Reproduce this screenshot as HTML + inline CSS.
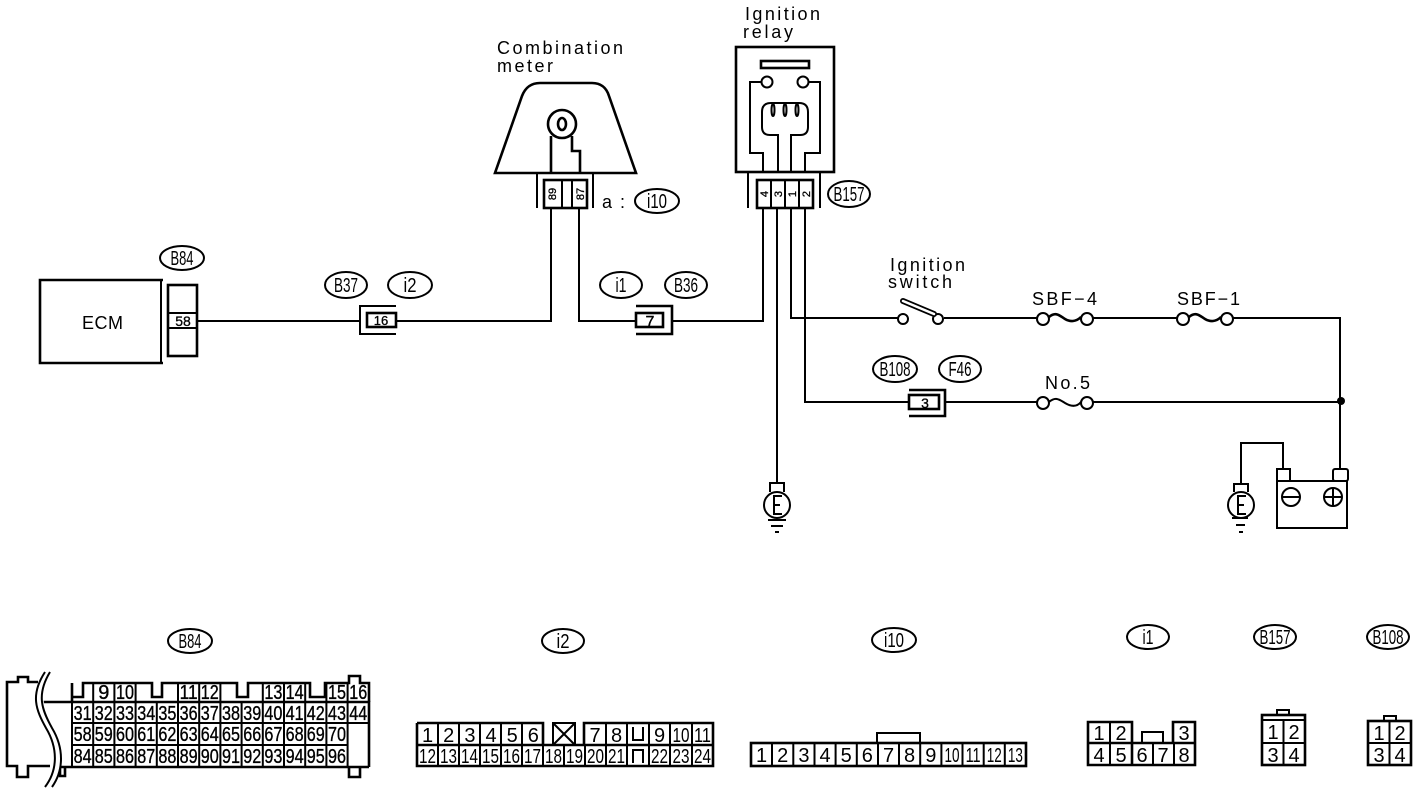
<!DOCTYPE html>
<html><head><meta charset="utf-8"><style>
html,body{margin:0;padding:0;background:#fff}
svg{display:block}
text{font-family:"Liberation Sans",sans-serif;fill:#000}
.w{fill:none;stroke:#000;stroke-width:2}
.t{fill:none;stroke:#000;stroke-width:1.5}
.h{fill:none;stroke:#000;stroke-width:2.6}
.l{font-size:18px}
.n{font-size:20px;text-anchor:middle}
.s{font-size:20px;text-anchor:middle;stroke:#000;stroke-width:.35}
.o{font-size:20px;text-anchor:middle}
</style></head><body>
<svg width="1424" height="794" viewBox="0 0 1424 794" xmlns="http://www.w3.org/2000/svg">
<rect width="1424" height="794" fill="#fff"/>

<!-- labels -->
<g class="l" lengthAdjust="spacing">
<text x="497" y="54" textLength="126">Combination</text>
<text x="497" y="72" textLength="56">meter</text>
<text x="745" y="20" textLength="75">Ignition</text>
<text x="743" y="38" textLength="50">relay</text>
<text x="890" y="271" textLength="75">Ignition</text>
<text x="888" y="288" textLength="64">switch</text>
<text x="1032" y="305" textLength="65">SBF−4</text>
<text x="1177" y="305" textLength="63">SBF−1</text>
<text x="1045" y="389" textLength="45">No.5</text>
<text x="82" y="329" textLength="41">ECM</text>
<text x="602" y="208" textLength="23">a :</text>
</g>

<!-- ovals -->
<g>
<ellipse class="w" cx="182" cy="258" rx="22" ry="12"/>
<ellipse class="w" cx="346" cy="285" rx="21" ry="13"/>
<ellipse class="w" cx="410" cy="285" rx="22" ry="13"/>
<ellipse class="w" cx="621" cy="285" rx="21" ry="13"/>
<ellipse class="w" cx="686" cy="285" rx="21" ry="13"/>
<ellipse class="w" cx="657" cy="201" rx="22" ry="12"/>
<ellipse class="w" cx="849" cy="194" rx="21" ry="13"/>
<ellipse class="w" cx="895" cy="369" rx="22" ry="13"/>
<ellipse class="w" cx="960" cy="369" rx="21" ry="13"/>
<ellipse class="w" cx="190" cy="641" rx="22" ry="12"/>
<ellipse class="w" cx="563" cy="641" rx="21" ry="12"/>
<ellipse class="w" cx="894" cy="640" rx="22" ry="12"/>
<ellipse class="w" cx="1148" cy="637" rx="21" ry="12"/>
<ellipse class="w" cx="1275" cy="637" rx="21" ry="12"/>
<ellipse class="w" cx="1388" cy="637" rx="21" ry="12"/>
</g>
<g class="o">
<text x="182" y="265" textLength="23" lengthAdjust="spacingAndGlyphs">B84</text>
<text x="346" y="292" textLength="24" lengthAdjust="spacingAndGlyphs">B37</text>
<text x="410" y="292" textLength="13" lengthAdjust="spacingAndGlyphs">i2</text>
<text x="621" y="292" textLength="11" lengthAdjust="spacingAndGlyphs">i1</text>
<text x="686" y="292" textLength="24" lengthAdjust="spacingAndGlyphs">B36</text>
<text x="657" y="208" textLength="20" lengthAdjust="spacingAndGlyphs">i10</text>
<text x="849" y="201" textLength="31" lengthAdjust="spacingAndGlyphs">B157</text>
<text x="895" y="376" textLength="31" lengthAdjust="spacingAndGlyphs">B108</text>
<text x="960" y="376" textLength="23" lengthAdjust="spacingAndGlyphs">F46</text>
<text x="190" y="648" textLength="23" lengthAdjust="spacingAndGlyphs">B84</text>
<text x="563" y="648" textLength="13" lengthAdjust="spacingAndGlyphs">i2</text>
<text x="894" y="647" textLength="20" lengthAdjust="spacingAndGlyphs">i10</text>
<text x="1148" y="644" textLength="11" lengthAdjust="spacingAndGlyphs">i1</text>
<text x="1275" y="644" textLength="31" lengthAdjust="spacingAndGlyphs">B157</text>
<text x="1388" y="644" textLength="31" lengthAdjust="spacingAndGlyphs">B108</text>
</g>

<!-- ECM -->
<path class="h" d="M163 280H40V363H163"/>
<path class="w" d="M161 280V363"/>
<rect class="h" x="168" y="285" width="29" height="71"/>
<path class="w" d="M168 313H197M168 328H197"/>
<text x="183" y="326" text-anchor="middle" font-size="14" stroke="#000" stroke-width=".3">58</text>

<!-- main wires -->
<path class="w" d="M197 321H360M396 321H551V208M579 208V321H636M672 321H763V208M777 208V484M791 208V318H898M944 318H1037M1093 318H1177M1233 318H1340V470M805 208V402H909M945 402H1037M1093 402H1340"/>
<circle cx="1341" cy="401" r="4" fill="#000"/>

<!-- inline connectors -->
<path class="w" d="M396 306H360V334H396"/>
<rect class="h" x="367" y="313" width="29" height="14"/>
<text x="381" y="325" text-anchor="middle" font-size="13" stroke="#000" stroke-width=".3">16</text>
<path class="h" d="M636 306H672V334H636"/>
<rect class="h" x="636" y="313" width="27" height="14"/>
<text x="650" y="327" text-anchor="middle" font-size="16" stroke="#000" stroke-width=".4">7</text>
<path class="h" d="M909 390H945V416H909"/>
<rect class="h" x="909" y="395" width="30" height="14"/>
<text x="925" y="408" text-anchor="middle" font-size="14" stroke="#000" stroke-width=".3">3</text>

<!-- switch -->
<circle class="w" cx="903" cy="319" r="5"/>
<circle class="w" cx="938" cy="319" r="5"/>
<path d="M903 301L934 314" fill="none" stroke="#000" stroke-width="6" stroke-linecap="round"/>
<path d="M903 301L934 314" fill="none" stroke="#fff" stroke-width="2.5" stroke-linecap="round"/>

<!-- fuses -->
<circle class="w" cx="1043" cy="319" r="6"/><circle class="w" cx="1087" cy="319" r="6"/>
<path class="h" d="M1049 317C1056 311 1060 316 1065 319S1076 322 1081 317"/>
<circle class="w" cx="1183" cy="319" r="6"/><circle class="w" cx="1227" cy="319" r="6"/>
<path class="h" d="M1189 317C1196 311 1200 316 1205 319S1216 322 1221 317"/>
<circle class="w" cx="1043" cy="403" r="6"/><circle class="w" cx="1087" cy="403" r="6"/>
<path class="w" d="M1049 402C1056 396 1060 400 1065 403S1076 408 1081 402"/>

<!-- grounds -->
<path class="w" d="M770 492V483H784V492"/>
<circle class="w" cx="777" cy="505" r="13"/>
<path class="w" d="M782 496H774V514H782M774 505H780"/>
<path class="w" d="M768 520H786M771 526H783M775 532H779"/>
<path class="w" d="M1234 492V484H1248V492"/>
<circle class="w" cx="1241" cy="505" r="13"/>
<path class="w" d="M1246 496H1238V514H1246M1238 505H1244"/>
<path class="w" d="M1232 518H1248M1236 525H1245M1239 532H1243"/>

<!-- battery -->
<path class="w" d="M1241 484V443H1283V469"/>
<rect class="w" x="1277" y="481" width="70" height="47"/>
<rect class="w" x="1277" y="469" width="13" height="12"/>
<rect class="w" x="1333" y="469" width="15" height="12" rx="2"/>
<circle class="w" cx="1291" cy="497" r="9"/>
<path class="w" d="M1282 497H1300"/>
<circle class="w" cx="1333" cy="497" r="9"/>
<path class="w" d="M1324 497H1342M1333 488V506"/>

<!-- combination meter -->
<path class="h" d="M495 173H636L609 96Q605 83 592 83H540Q527 83 522 96Z"/>
<circle class="h" cx="562" cy="124" r="14"/>
<ellipse class="h" cx="562" cy="124" rx="4" ry="6"/>
<path class="h" d="M551 136V173M572 136V151H580V173"/>
<path class="w" d="M537 174V208M593 174V208"/>
<rect class="h" x="544" y="180" width="43" height="28"/>
<path class="w" d="M562 180V208M572 180V208"/>
<text transform="translate(556,194) rotate(-90)" text-anchor="middle" font-size="11" stroke="#000" stroke-width=".3">89</text>
<text transform="translate(584,194) rotate(-90)" text-anchor="middle" font-size="11" stroke="#000" stroke-width=".3">87</text>

<!-- ignition relay -->
<rect class="h" x="736" y="47" width="98" height="125"/>
<rect class="h" x="761" y="61" width="48" height="7"/>
<circle class="w" cx="767" cy="82" r="5.5"/>
<circle class="w" cx="803" cy="82" r="5.5"/>
<path class="w" d="M762 82H750V153H763V172M808 82H820V153H805V172"/>
<path class="w" d="M778 172V135H770Q762 135 762 127V112Q762 103 771 103H799Q808 103 808 112V127Q808 135 800 135H791V172"/>
<ellipse class="w" cx="773" cy="110" rx="1.5" ry="6"/><ellipse class="w" cx="785" cy="110" rx="1.5" ry="6"/><ellipse class="w" cx="797" cy="110" rx="1.5" ry="6"/>
<path class="w" d="M748 172V208M820 172V208"/>
<rect class="h" x="757" y="180" width="56" height="28"/>
<path class="w" d="M771 180V208M785 180V208M799 180V208"/>
<text transform="translate(768,194) rotate(-90)" text-anchor="middle" font-size="11" stroke="#000" stroke-width=".3">4</text>
<text transform="translate(782,194) rotate(-90)" text-anchor="middle" font-size="11" stroke="#000" stroke-width=".3">3</text>
<text transform="translate(796,194) rotate(-90)" text-anchor="middle" font-size="11" stroke="#000" stroke-width=".3">1</text>
<text transform="translate(810,194) rotate(-90)" text-anchor="middle" font-size="11" stroke="#000" stroke-width=".3">2</text>

<!-- B84 connector -->
<path class="h" d="M38 682H28V677H18V682H7V766H17V777H28V766H50M60 767V776H65V767M55 767H369M38 702H369V767"/>
<path class="h" d="M72 702V683V697H83V683H152V697H162V683H237V697H248V683H310V697H325V683H349V676H360V683H369V702M349 767V777H360V767"/>
<path class="w" d="M72 702V767M93.2 683V767M114.4 683V767M135.6 683V767M156.8 702V767M178 683V767M199.2 683V767M220.4 683V767M241.6 702V767M262.8 683V767M284 683V767M305.2 683V767M326.4 683V767M347.6 683V767M72 723H347.6M72 745H347.6M347.6 723H369"/>
<path fill="#fff" d="M45 672C30 695 36 710 46 728C58 748 58 770 46 787H52C64 770 66 748 54 728C44 710 38 695 50 672Z"/>
<path class="w" d="M45 672C30 695 36 710 46 728C58 748 58 770 45 787M50 672C36 695 42 710 52 728C64 748 64 770 52 787"/>
<g class="s">
<text x="103.8" y="699">9</text><text x="125" y="699" textLength="18" lengthAdjust="spacingAndGlyphs">10</text><text x="188.6" y="699" textLength="18" lengthAdjust="spacingAndGlyphs">11</text><text x="209.8" y="699" textLength="18" lengthAdjust="spacingAndGlyphs">12</text><text x="273.4" y="699" textLength="18" lengthAdjust="spacingAndGlyphs">13</text><text x="294.6" y="699" textLength="18" lengthAdjust="spacingAndGlyphs">14</text><text x="337" y="699" textLength="18" lengthAdjust="spacingAndGlyphs">15</text><text x="358.2" y="699" textLength="18" lengthAdjust="spacingAndGlyphs">16</text>
<text x="82.6" y="720" textLength="18" lengthAdjust="spacingAndGlyphs">31</text><text x="103.8" y="720" textLength="18" lengthAdjust="spacingAndGlyphs">32</text><text x="125" y="720" textLength="18" lengthAdjust="spacingAndGlyphs">33</text><text x="146.2" y="720" textLength="18" lengthAdjust="spacingAndGlyphs">34</text><text x="167.4" y="720" textLength="18" lengthAdjust="spacingAndGlyphs">35</text><text x="188.6" y="720" textLength="18" lengthAdjust="spacingAndGlyphs">36</text><text x="209.8" y="720" textLength="18" lengthAdjust="spacingAndGlyphs">37</text><text x="231" y="720" textLength="18" lengthAdjust="spacingAndGlyphs">38</text><text x="252.2" y="720" textLength="18" lengthAdjust="spacingAndGlyphs">39</text><text x="273.4" y="720" textLength="18" lengthAdjust="spacingAndGlyphs">40</text><text x="294.6" y="720" textLength="18" lengthAdjust="spacingAndGlyphs">41</text><text x="315.8" y="720" textLength="18" lengthAdjust="spacingAndGlyphs">42</text><text x="337" y="720" textLength="18" lengthAdjust="spacingAndGlyphs">43</text><text x="358.2" y="720" textLength="18" lengthAdjust="spacingAndGlyphs">44</text>
<text x="82.6" y="741" textLength="18" lengthAdjust="spacingAndGlyphs">58</text><text x="103.8" y="741" textLength="18" lengthAdjust="spacingAndGlyphs">59</text><text x="125" y="741" textLength="18" lengthAdjust="spacingAndGlyphs">60</text><text x="146.2" y="741" textLength="18" lengthAdjust="spacingAndGlyphs">61</text><text x="167.4" y="741" textLength="18" lengthAdjust="spacingAndGlyphs">62</text><text x="188.6" y="741" textLength="18" lengthAdjust="spacingAndGlyphs">63</text><text x="209.8" y="741" textLength="18" lengthAdjust="spacingAndGlyphs">64</text><text x="231" y="741" textLength="18" lengthAdjust="spacingAndGlyphs">65</text><text x="252.2" y="741" textLength="18" lengthAdjust="spacingAndGlyphs">66</text><text x="273.4" y="741" textLength="18" lengthAdjust="spacingAndGlyphs">67</text><text x="294.6" y="741" textLength="18" lengthAdjust="spacingAndGlyphs">68</text><text x="315.8" y="741" textLength="18" lengthAdjust="spacingAndGlyphs">69</text><text x="337" y="741" textLength="18" lengthAdjust="spacingAndGlyphs">70</text>
<text x="82.6" y="763" textLength="18" lengthAdjust="spacingAndGlyphs">84</text><text x="103.8" y="763" textLength="18" lengthAdjust="spacingAndGlyphs">85</text><text x="125" y="763" textLength="18" lengthAdjust="spacingAndGlyphs">86</text><text x="146.2" y="763" textLength="18" lengthAdjust="spacingAndGlyphs">87</text><text x="167.4" y="763" textLength="18" lengthAdjust="spacingAndGlyphs">88</text><text x="188.6" y="763" textLength="18" lengthAdjust="spacingAndGlyphs">89</text><text x="209.8" y="763" textLength="18" lengthAdjust="spacingAndGlyphs">90</text><text x="231" y="763" textLength="18" lengthAdjust="spacingAndGlyphs">91</text><text x="252.2" y="763" textLength="18" lengthAdjust="spacingAndGlyphs">92</text><text x="273.4" y="763" textLength="18" lengthAdjust="spacingAndGlyphs">93</text><text x="294.6" y="763" textLength="18" lengthAdjust="spacingAndGlyphs">94</text><text x="315.8" y="763" textLength="18" lengthAdjust="spacingAndGlyphs">95</text><text x="337" y="763" textLength="18" lengthAdjust="spacingAndGlyphs">96</text>
</g>

<!-- i2 connector -->
<path class="h" d="M417 723H543V745M417 723V766H713V723H584V745M417 745H713"/>
<path class="w" d="M553 723H575V745H553ZM553 723L575 745M575 723L553 745"/>
<path class="w" d="M438 723V766M459 723V766M480 723V766M501 723V766M522 723V766M543 745V766M564 745V766M585 745V766M606 723V766M627 723V766M649 723V766M670 723V766M692 723V766"/>
<path class="w" d="M633 727V740H643V727M633 763V750H643V763"/>
<g class="n">
<text x="427.6" y="742">1</text><text x="448.7" y="742">2</text><text x="469.9" y="742">3</text><text x="491" y="742">4</text><text x="512.2" y="742">5</text><text x="533.3" y="742">6</text><text x="595" y="742">7</text><text x="616.5" y="742">8</text><text x="659.5" y="742">9</text><text x="681" y="742" textLength="17" lengthAdjust="spacingAndGlyphs">10</text><text x="702.5" y="742" textLength="17" lengthAdjust="spacingAndGlyphs">11</text>
<text x="427.5" y="763" textLength="17" lengthAdjust="spacingAndGlyphs">12</text><text x="448.5" y="763" textLength="17" lengthAdjust="spacingAndGlyphs">13</text><text x="469.5" y="763" textLength="17" lengthAdjust="spacingAndGlyphs">14</text><text x="490.5" y="763" textLength="17" lengthAdjust="spacingAndGlyphs">15</text><text x="511.5" y="763" textLength="17" lengthAdjust="spacingAndGlyphs">16</text><text x="532.5" y="763" textLength="17" lengthAdjust="spacingAndGlyphs">17</text><text x="553.5" y="763" textLength="17" lengthAdjust="spacingAndGlyphs">18</text><text x="574.5" y="763" textLength="17" lengthAdjust="spacingAndGlyphs">19</text><text x="595.5" y="763" textLength="17" lengthAdjust="spacingAndGlyphs">20</text><text x="616.5" y="763" textLength="17" lengthAdjust="spacingAndGlyphs">21</text><text x="659.5" y="763" textLength="17" lengthAdjust="spacingAndGlyphs">22</text><text x="681" y="763" textLength="17" lengthAdjust="spacingAndGlyphs">23</text><text x="702.5" y="763" textLength="17" lengthAdjust="spacingAndGlyphs">24</text>
</g>

<!-- i10 connector -->
<rect class="h" x="751" y="743" width="275" height="23"/>
<path class="w" d="M877 743V733H920V743"/>
<path class="w" d="M772 743V766M793.3 743V766M814.5 743V766M835.6 743V766M856.8 743V766M878 743V766M899 743V766M920.2 743V766M941.4 743V766M962.5 743V766M983.7 743V766M1004.8 743V766"/>
<g class="n">
<text x="761.6" y="762">1</text><text x="782.7" y="762">2</text><text x="803.9" y="762">3</text><text x="825" y="762">4</text><text x="846.2" y="762">5</text><text x="867.3" y="762">6</text><text x="888.5" y="762">7</text><text x="909.6" y="762">8</text><text x="930.8" y="762">9</text><text x="952" y="762" textLength="15" lengthAdjust="spacingAndGlyphs">10</text><text x="973.1" y="762" textLength="15" lengthAdjust="spacingAndGlyphs">11</text><text x="994.3" y="762" textLength="15" lengthAdjust="spacingAndGlyphs">12</text><text x="1015.4" y="762" textLength="15" lengthAdjust="spacingAndGlyphs">13</text>
</g>

<!-- i1 connector -->
<path class="h" d="M1088 722H1132V765H1088ZM1088 743H1195M1132 765H1195V722H1173V743"/>
<path class="w" d="M1110 722V765M1153 743V765M1174 743V765M1142 743V732H1163V743"/>
<g class="n">
<text x="1099" y="740">1</text><text x="1121" y="740">2</text><text x="1184" y="740">3</text><text x="1099" y="762">4</text><text x="1121" y="762">5</text><text x="1142" y="762">6</text><text x="1163" y="762">7</text><text x="1184" y="762">8</text>
</g>

<!-- B157 connector -->
<rect class="h" x="1262" y="715" width="43" height="50"/>
<path class="w" d="M1262 720H1305M1262 743H1305M1283.5 720V765M1277 715V710H1289V715"/>
<g class="n">
<text x="1273" y="739">1</text><text x="1294" y="739">2</text><text x="1273" y="762">3</text><text x="1294" y="762">4</text>
</g>

<!-- B108 connector -->
<rect class="h" x="1368" y="721" width="43" height="44"/>
<path class="w" d="M1368 743H1411M1389.5 721V765M1384 721V716H1396V721"/>
<g class="n">
<text x="1379" y="740">1</text><text x="1400" y="740">2</text><text x="1379" y="762">3</text><text x="1400" y="762">4</text>
</g>
</svg>
</body></html>
